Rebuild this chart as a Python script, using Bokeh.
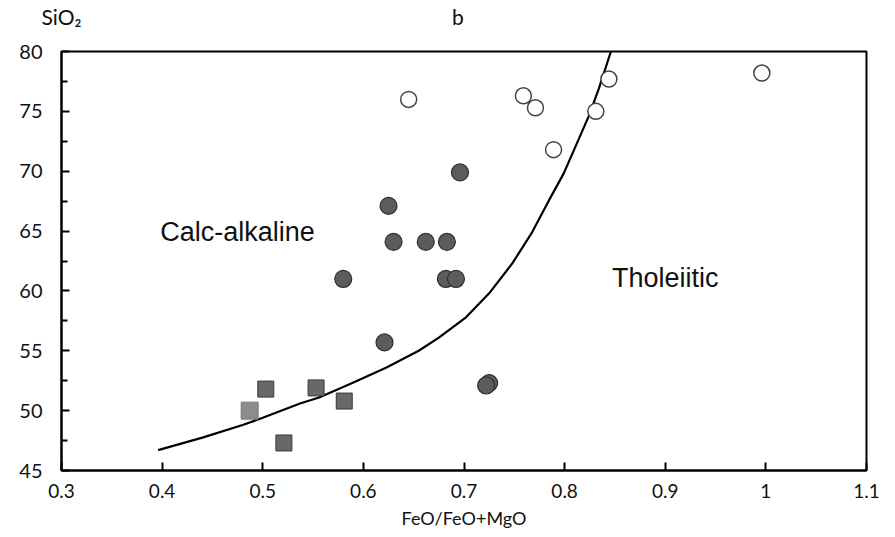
from bokeh.plotting import figure
from bokeh.models import FixedTicker, Label, LinearAxis
from bokeh.embed import file_html
from bokeh.resources import INLINE

# Open circles (felsic)
open_x = [0.645, 0.759, 0.771, 0.789, 0.831, 0.844, 0.996]
open_y = [76.0, 76.3, 75.3, 71.8, 75.0, 77.7, 78.2]

# Filled circles
fill_x = [0.625, 0.630, 0.662, 0.683, 0.696, 0.580, 0.682, 0.692, 0.621, 0.725, 0.722]
fill_y = [67.1, 64.1, 64.1, 64.1, 69.9, 61.0, 61.0, 61.0, 55.7, 52.3, 52.1]

# Squares
sq_x = [0.503, 0.553, 0.581, 0.521]
sq_y = [51.8, 51.9, 50.8, 47.3]
sq_light_x = [0.487]
sq_light_y = [50.0]

# Dividing curve
curve_x = [0.396, 0.44, 0.48, 0.50, 0.537, 0.556, 0.589, 0.623, 0.655, 0.675, 0.702,
           0.725, 0.748, 0.767, 0.784, 0.799, 0.811, 0.824, 0.834, 0.846]
curve_y = [46.7, 47.75, 48.8, 49.4, 50.6, 51.1, 52.3, 53.6, 55.0, 56.1, 57.8,
           59.8, 62.3, 64.8, 67.5, 69.8, 72.1, 74.6, 76.9, 80.0]

x_ticks = [0.3, 0.4, 0.5, 0.6, 0.7, 0.8, 0.9, 1.0, 1.1]
x_labels = ["0.3", "0.4", "0.5", "0.6", "0.7", "0.8", "0.9", "1", "1.1"]
y_ticks = [45, 50, 55, 60, 65, 70, 75, 80]
y_minor = [47.5, 52.5, 57.5, 62.5, 67.5, 72.5, 77.5]

# Header texts: y-axis name and panel letter
header_pos = [0.3, 0.694]
header_text = ["SiO₂", "b"]

p = figure(width=895, height=537, x_range=(0.3, 1.1), y_range=(45, 80),
           output_backend="svg", toolbar_location=None,
           min_border_left=61, min_border_right=29, min_border_top=51, min_border_bottom=67)
p.background_fill_color = "white"
p.border_fill_color = "white"
p.grid.visible = False
p.outline_line_color = "black"
p.outline_line_width = 2

p.xaxis.ticker = FixedTicker(ticks=x_ticks)
p.xaxis.major_label_overrides = {t: l for t, l in zip(x_ticks, x_labels)}
p.yaxis.ticker = FixedTicker(ticks=y_ticks, minor_ticks=y_minor)

for ax in (p.xaxis, p.yaxis):
    ax.axis_line_color = "black"
    ax.axis_line_width = 2
    ax.major_tick_in = 8
    ax.major_tick_out = 0
    ax.major_tick_line_width = 2
    ax.major_tick_line_color = "black"
    ax.major_label_text_font = "Lato"
    ax.major_label_text_color = "#111111"
    ax.axis_label_text_font = "Lato"
    ax.axis_label_text_font_style = "normal"
    ax.axis_label_text_color = "#111111"

p.xaxis.minor_tick_line_color = None
p.yaxis.minor_tick_in = 6
p.yaxis.minor_tick_out = 0
p.yaxis.minor_tick_line_width = 2
p.yaxis.minor_tick_line_color = "black"
p.xaxis.major_label_text_font_size = "19px"
p.yaxis.major_label_text_font_size = "20px"
p.xaxis.major_label_standoff = 13
p.yaxis.major_label_standoff = 19
p.xaxis.axis_label = "FeO/FeO+MgO"
p.xaxis.axis_label_text_font_size = "18px"
p.xaxis.axis_label_standoff = 6

# header axis (no line/ticks) carrying "SiO₂" and "b"
top = LinearAxis(ticker=FixedTicker(ticks=header_pos),
                 major_label_overrides={t: s for t, s in zip(header_pos, header_text)})
top.axis_line_color = None
top.major_tick_line_color = None
top.minor_tick_line_color = None
top.major_label_text_font = "Lato"
top.major_label_text_font_size = "21px"
top.major_label_text_color = "#111111"
top.major_label_standoff = 17
p.add_layout(top, "above")

p.line(curve_x, curve_y, line_color="black", line_width=2.2)

p.scatter(open_x, open_y, marker="circle", size=16, fill_color="white",
          line_color="#444444", line_width=1.5)
p.scatter(fill_x, fill_y, marker="circle", size=17, fill_color="#5c5c5c",
          line_color="#2e2e2e", line_width=1.2)
p.scatter(sq_x, sq_y, marker="square", size=16, fill_color="#686868",
          line_color="#3a3a3a", line_width=1)
p.scatter(sq_light_x, sq_light_y, marker="square", size=17, fill_color="#8c8c8c",
          line_color="#7a7a7a", line_width=1)

p.add_layout(Label(x=0.475, y=64.9, text="Calc-alkaline", text_font="Liberation Sans",
                   text_font_size="27px", text_align="center", text_baseline="middle",
                   text_color="#111111"))
p.add_layout(Label(x=0.9, y=61.1, text="Tholeiitic", text_font="Liberation Sans",
                   text_font_size="27px", text_align="center", text_baseline="middle",
                   text_color="#111111"))

open("out.html", "w").write(file_html(p, INLINE))
